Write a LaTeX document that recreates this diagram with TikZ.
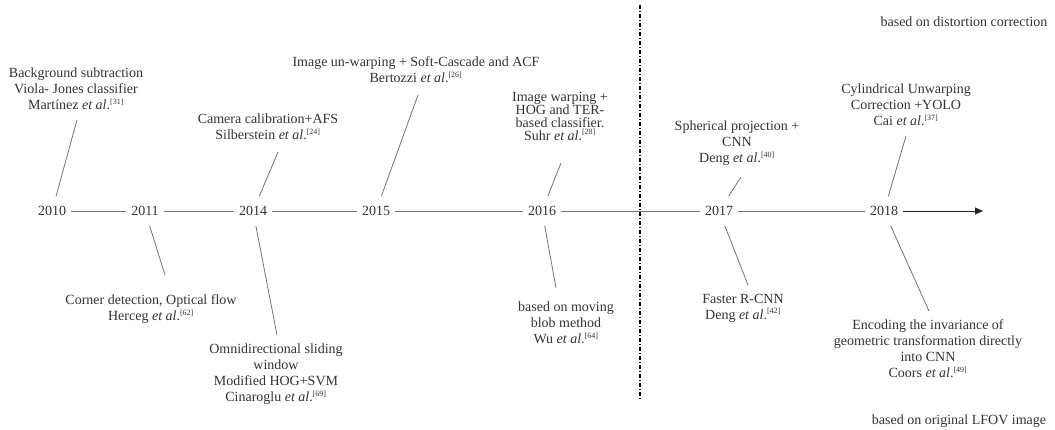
\documentclass[tikz,border=0pt]{standalone}
\usepackage{fontspec}
\setmainfont{Liberation Serif}
\usetikzlibrary{arrows.meta,positioning}
\definecolor{textgray}{rgb}{0.2, 0.2, 0.2}
\definecolor{linegray}{rgb}{0.45, 0.45, 0.45}
\newcommand{\etal}{\textit{et al}.}
\newcommand{\refno}[1]{\textsuperscript{\fontsize{8}{8}\selectfont[#1]}}

\begin{document}
\begin{tikzpicture}[x=1pt, y=-1pt,
			year/.style={font=\fontsize{14}{16}\selectfont, text=textgray, inner xsep=5pt, inner ysep=10pt},
			work/.style={font=\fontsize{14}{16}\selectfont, text=textgray, align=center, inner sep=0pt},
			tightWork/.style={work, font=\fontsize{14}{13}\selectfont},
			note/.style={font=\fontsize{14}{16}\selectfont, text=textgray, inner sep=0pt},
			axis/.style={draw=linegray, line width=0.9pt},
			arrowStrong/.style={draw=black!85, line width=0.9pt, -{Triangle[length=8pt, width=7pt]}},
			link/.style={draw=linegray, line width=0.8pt},
			split/.style={draw=black, line width=1.3pt, dash pattern=on 4pt off 2pt on 1pt off 2pt},
			]
			\useasboundingbox (0,0) rectangle (1055,430);
			
			% years
			\draw node[year] (y2010) at (52,211) {2010};
			\draw node[year] (y2011) at (145,211) {2011};
			\draw node[year] (y2014) at (253,211) {2014};
			\draw node[year] (y2015) at (376,211) {2015};
			\draw node[year] (y2016) at (542,211) {2016};
			\draw node[year] (y2017) at (719,211) {2017};
			\draw node[year] (y2018) at (884,211) {2018};
			\coordinate (timeEnd) at (983,211);
			
			% split
			\coordinate (splitTop) at (640,5);
			\coordinate (splitBottom) at (640,400);
			\draw [split] (splitTop) -- (splitBottom);
			\draw node[note] (distNote) at (964,22) {based on distortion correction};
			\draw node[note] (lfovNote) at (959,421) {based on original LFOV image};
			
			% above the line
			\draw node[work] (martinez) at (76,89) {Background subtraction\\Viola- Jones classifier\\Mart\'{\i}nez \etal\refno{31}};
			\draw node[work] (silberstein) at (268,127) {Camera calibration+AFS\\Silberstein \etal\refno{24}};
			\draw node[work] (bertozzi) at (416,70) {Image un-warping + Soft-Cascade and ACF\\Bertozzi \etal\refno{26}};
			\draw node[tightWork] (suhr) at (560,116) {Image warping +\\HOG and TER-\\based classifier.\\Suhr \etal\refno{28}};
			\draw node[work] (dengA) at (737,143) {Spherical projection +\\CNN\\Deng \etal\refno{40}};
			\draw node[work] (cai) at (906,105) {Cylindrical Unwarping\\Correction +YOLO\\Cai \etal\refno{37}};
			
			% below the line
			\draw node[work] (herceg) at (151,309) {Corner detection, Optical flow\\Herceg \etal\refno{62}};
			\draw node[work] (cinaroglu) at (276,374) {Omnidirectional sliding\\window\\Modified HOG+SVM\\Cinaroglu \etal\refno{69}};
			\draw node[work] (wu) at (566,323) {based on moving\\blob method\\Wu \etal\refno{64}};
			\draw node[work] (dengB) at (743,308) {Faster R-CNN\\Deng \etal\refno{42}};
			\draw node[work] (coors) at (928,349) {Encoding the invariance of\\geometric transformation directly\\into CNN\\Coors \etal\refno{49}};
			
			% ends of the links
			\coordinate (martinezEnd) at (77,120);
			\coordinate (silbersteinEnd) at (278,152);
			\coordinate (bertozziEnd) at (418,95);
			\coordinate (suhrEnd) at (561,163);
			\coordinate (dengAEnd) at (741,177);
			\coordinate (caiEnd) at (906,136);
			\coordinate (hercegEnd) at (165,275);
			\coordinate (cinarogluEnd) at (277,335);
			\coordinate (wuEnd) at (556,288);
			\coordinate (dengBEnd) at (748,285);
			\coordinate (coorsEnd) at (929,311);
			
			% Arrow
			\foreach \a/\b in {2010/2011,2011/2014,2014/2015,2015/2016,2016/2017,2017/2018}
			\draw [axis] (y\a) -- (y\b);
			\draw [arrowStrong] (y2018) -- (timeEnd);
			
			\foreach \w/\y in {martinez/2010,silberstein/2014,bertozzi/2015,suhr/2016,dengA/2017,cai/2018,herceg/2011,cinaroglu/2014,wu/2016,dengB/2017,coors/2018}
			\draw [link] (\w End) -- (y\y);
			
		\end{tikzpicture}
\end{document}
